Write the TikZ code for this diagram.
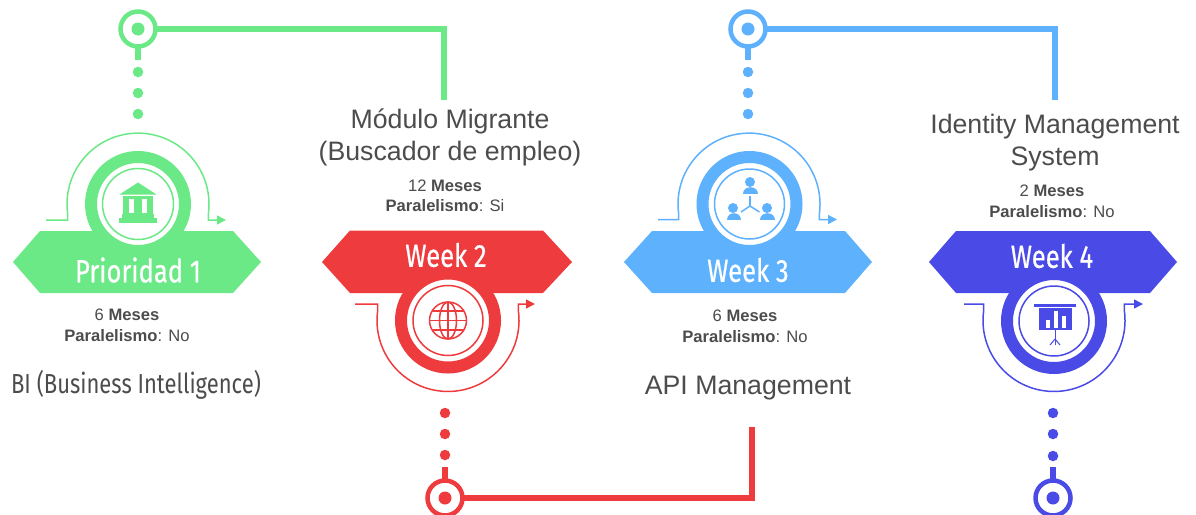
\documentclass[tikz,border=0pt]{standalone}
\usepackage{fontspec}
\setmainfont{Liberation Sans}
\newfontfamily\condfont[FakeStretch=0.8]{Fira Sans}
\newfontfamily\tagfont[FakeStretch=0.8,FakeBold=0.6]{Fira Sans}
\usetikzlibrary{arrows.meta}
\definecolor{prioGreen}{HTML}{6BE986}
\definecolor{weekRed}{HTML}{EE3B3D}
\definecolor{weekBlue}{HTML}{5EB1FC}
\definecolor{weekIndigo}{HTML}{4A4AE6}
\tikzset{
  hub/.style={circle, draw=#1, fill=white, line width=4.5pt, minimum size=35pt, inner sep=0pt},
  hubdot/.style={circle, fill=#1, minimum size=13pt, inner sep=0pt},
  stepdot/.style={circle, fill=#1, minimum size=10.5pt, inner sep=0pt},
  link/.style={draw=#1, line width=6pt},
  turn/.style={draw=#1, line width=1.5pt, -{Triangle[length=9pt,width=9pt]}},
  tag/.style={text=white, font=\tagfont\fontsize{32}{32}\selectfont},
  head/.style={text=#1, align=center, font=\fontsize{26.7}{32}\selectfont},
  headcond/.style={text=#1, font=\condfont\fontsize{27.5}{32}\selectfont},
  info/.style={text=black!70, align=center, font=\fontsize{16.6}{20.5}\selectfont}
}
\begin{document}
\begin{tikzpicture}[x=1pt,y=-1pt]
\useasboundingbox (0,0) rectangle (1196,514);

% Prioridad 1
\coordinate (endA) at (444,100);
\coordinate (stemA) at (138,60);
\draw[link=prioGreen] (138,29) -- (stemA);
\draw[link=prioGreen] (138,29) -| (endA);
\node[hub=prioGreen] (hubA) at (138,29) {};
\node[hubdot=prioGreen] (coreA) at (hubA) {};
\node[stepdot=prioGreen] (dotA1) at (138,72) {};
\node[stepdot=prioGreen] (dotA2) at (138,93) {};
\node[stepdot=prioGreen] (dotA3) at (138,114) {};
\draw[turn=prioGreen] (46,220) -- (67.7,220) -- (67.7,214) arc[start angle=188,end angle=-8,radius=71pt] -- (208.3,220) -- (226,220);
\fill[prioGreen] (13,262) -- (40,231) -- (233,231) -- (261,262) -- (233,293) -- (40,293) -- cycle;
\filldraw[fill=white, draw=prioGreen, line width=12pt] (138,204) circle (47pt);
\draw[prioGreen, line width=1.5pt] (138,204) circle (35.5pt);
\node[tag] (tagA) at (138,270) {Prioridad 1};
\node[info] (infoA) at (127,325.5) {6 \textbf{Meses}\\\textbf{Paralelismo}: No};
\node[headcond=black!70] (nameA) at (136,385) {BI (Business Intelligence)};
% bank icon
\fill[prioGreen] (138,182.5) -- (156.5,194.5) -- (119.5,194.5) -- cycle;
\fill[prioGreen] (123,196) rectangle (153,215);
\fill[white] (128.5,199) rectangle (133.5,213);
\fill[white] (141.5,199) rectangle (146.5,213);
\fill[prioGreen] (122,214) rectangle (154,218);
\fill[prioGreen] (118.5,218) rectangle (157,223);

% Week 2
\coordinate (endB) at (752,427);
\coordinate (stemB) at (445,467);
\draw[link=weekRed] (445,498) -- (stemB);
\draw[link=weekRed] (445,498) -| (endB);
\node[hub=weekRed] (hubB) at (445,498) {};
\node[hubdot=weekRed] (coreB) at (hubB) {};
\node[stepdot=weekRed] (dotB1) at (445,413) {};
\node[stepdot=weekRed] (dotB2) at (445,434) {};
\node[stepdot=weekRed] (dotB3) at (445,455) {};
\draw[turn=weekRed] (355,304) -- (377.7,304) -- (377.7,310.6) arc[start angle=172,end angle=368,radius=71pt] -- (518.3,304) -- (535,304);
\fill[weekRed] (322,262) -- (350,230.5) -- (543,230.5) -- (572,262) -- (543,293) -- (350,293) -- cycle;
\filldraw[fill=white, draw=weekRed, line width=12pt] (448,320.5) circle (47pt);
\draw[weekRed, line width=1.5pt] (448,320.5) circle (35pt);
\node[tag] (tagB) at (446,255) {Week 2};
\node[head=black!70] (nameB) at (450,137) {Módulo Migrante\\(Buscador de empleo)};
\node[info] (infoB) at (445,196) {12 \textbf{Meses}\\\textbf{Paralelismo}: Si};
% globe icon
\draw[weekRed, line width=1.5pt] (448,320.5) circle (18.5pt);
\draw[weekRed, line width=1.5pt] (448,320.5) ellipse (8.5pt and 18.5pt);
\draw[weekRed, line width=1.5pt] (448,302) -- (448,339);
\draw[weekRed, line width=1.5pt] (429.5,320.5) -- (466.5,320.5);
\draw[weekRed, line width=1.5pt] (432.5,311) -- (463.5,311);
\draw[weekRed, line width=1.5pt] (432.5,330) -- (463.5,330);

% Week 3
\coordinate (endC) at (1055,100);
\coordinate (stemC) at (748,60);
\draw[link=weekBlue] (748,29) -- (stemC);
\draw[link=weekBlue] (748,29) -| (endC);
\node[hub=weekBlue] (hubC) at (748,29) {};
\node[hubdot=weekBlue] (coreC) at (hubC) {};
\node[stepdot=weekBlue] (dotC1) at (748,72) {};
\node[stepdot=weekBlue] (dotC2) at (748,93) {};
\node[stepdot=weekBlue] (dotC3) at (748,114) {};
\draw[turn=weekBlue] (658,219.5) -- (678.7,219.5) -- (678.7,214) arc[start angle=188,end angle=-8,radius=71pt] -- (819.3,219.5) -- (837,219.5);
\fill[weekBlue] (624,262) -- (652,231) -- (845,231) -- (872,262) -- (845,293) -- (652,293) -- cycle;
\filldraw[fill=white, draw=weekBlue, line width=12pt] (749.5,204) circle (47pt);
\draw[weekBlue, line width=1.5pt] (749.5,204) circle (35pt);
\node[tag] (tagC) at (748,270) {Week 3};
\node[info] (infoC) at (745,326.5) {6 \textbf{Meses}\\\textbf{Paralelismo}: No};
\node[head=black!70] (nameC) at (748,388) {API Management};
% people icon
\fill[weekBlue] (750,182) circle (5pt);
\fill[weekBlue] (743,194) .. controls (743,185) and (757.5,185) .. (757.5,194) -- cycle;
\fill[weekBlue] (733,208) circle (5pt);
\fill[weekBlue] (726.5,219.5) .. controls (726.5,210.5) and (741,210.5) .. (741,219.5) -- cycle;
\fill[weekBlue] (767,208) circle (5pt);
\fill[weekBlue] (760,219.5) .. controls (760,210.5) and (774.5,210.5) .. (774.5,219.5) -- cycle;
\draw[weekBlue, line width=1.5pt] (750,196) -- (750,206);
\draw[weekBlue, line width=1.5pt] (750,206) -- (741,212);
\draw[weekBlue, line width=1.5pt] (750,206) -- (759.5,212);

% Week 4
\coordinate (stemD) at (1053,467);
\draw[link=weekIndigo] (1053,498) -- (stemD);
\node[hub=weekIndigo] (hubD) at (1053,498) {};
\node[hubdot=weekIndigo] (coreD) at (hubD) {};
\node[stepdot=weekIndigo] (dotD1) at (1053,413) {};
\node[stepdot=weekIndigo] (dotD2) at (1053,434) {};
\node[stepdot=weekIndigo] (dotD3) at (1053,456) {};
\draw[turn=weekIndigo] (964,304) -- (983.7,304) -- (983.7,310.6) arc[start angle=172,end angle=368,radius=71pt] -- (1124.3,304) -- (1143,304);
\fill[weekIndigo] (929,262) -- (956,231) -- (1150,231) -- (1177,262) -- (1150,293) -- (956,293) -- cycle;
\filldraw[fill=white, draw=weekIndigo, line width=12pt] (1054,321) circle (47pt);
\draw[weekIndigo, line width=1.5pt] (1054,321) circle (35pt);
\node[tag] (tagD) at (1052,256) {Week 4};
\node[head=black!70] (nameD) at (1055,143) {Identity Management\\System};
\node[info] (infoD) at (1052,201.5) {2 \textbf{Meses}\\\textbf{Paralelismo}: No};
% chart icon
\fill[weekIndigo] (1034,304) rectangle (1076,306.7);
\fill[weekIndigo] (1039,308) rectangle (1072,330);
\fill[white] (1046,320) rectangle (1049.5,328);
\fill[white] (1054,310.5) rectangle (1057.5,328);
\fill[white] (1062,316) rectangle (1065.5,328);
\draw[weekIndigo, line width=1pt] (1055,330) -- (1055,339);
\draw[weekIndigo, line width=1pt] (1055,339) -- (1050,345);
\draw[weekIndigo, line width=1pt] (1055,339) -- (1055,345);
\draw[weekIndigo, line width=1pt] (1055,339) -- (1060,345);
\end{tikzpicture}
\end{document}
